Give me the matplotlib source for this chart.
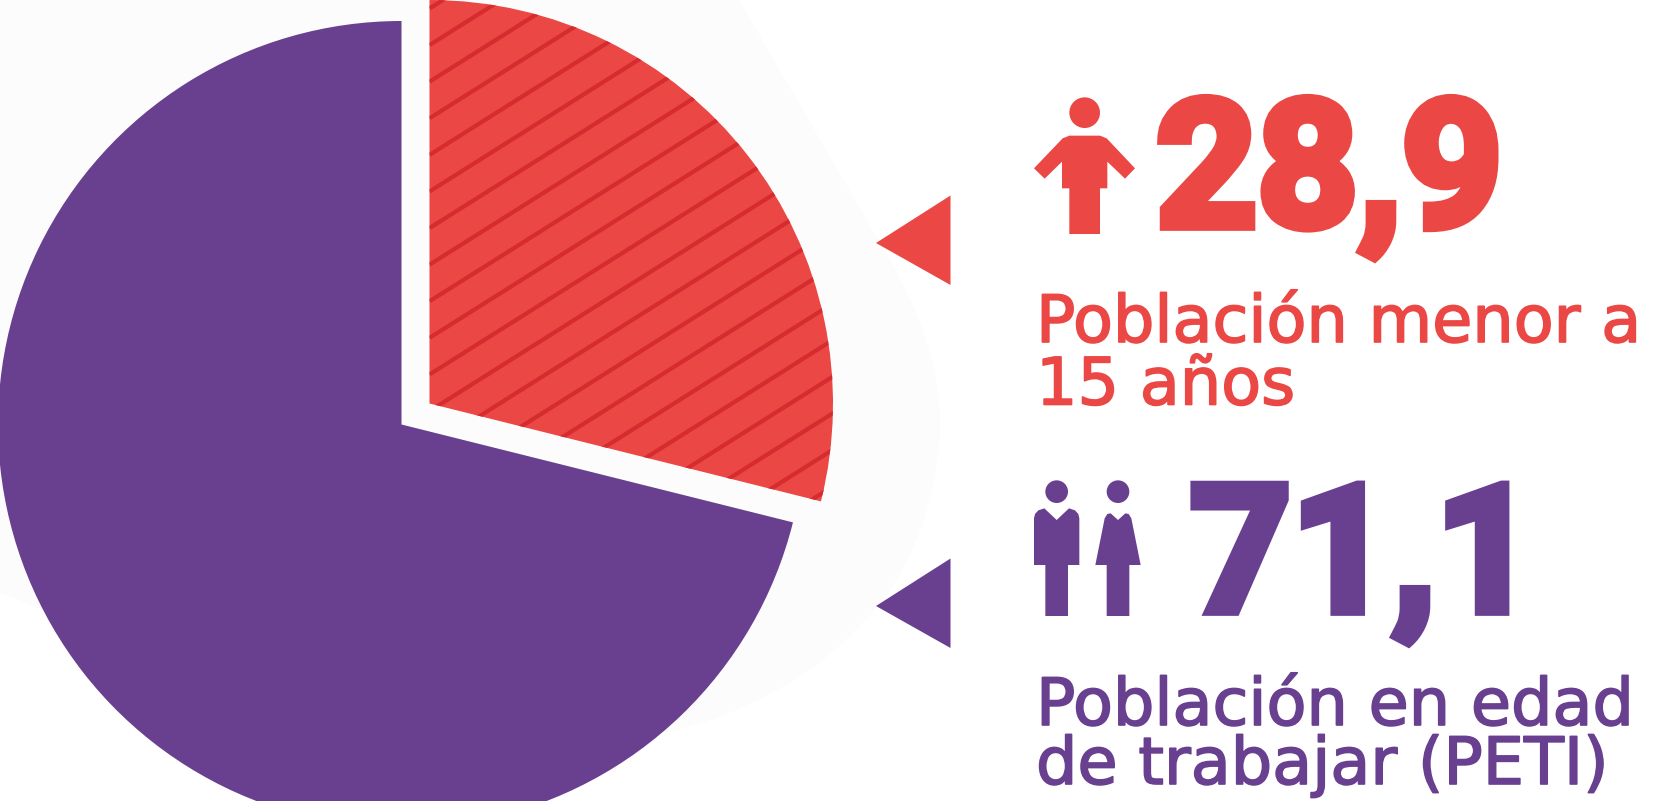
import numpy as np
import matplotlib
matplotlib.use('Agg')
import matplotlib.pyplot as plt
import matplotlib.patheffects as pe
from matplotlib.patches import Wedge, Polygon, Circle, PathPatch
from matplotlib.path import Path

# datos
categorias = ['Población menor a\n15 años', 'Población en edad\nde trabajar (PETI)']
valores = [28.9, 71.1]
etiquetas_valor = ['28,9', '71,1']

ROJO = '#EA4745'
ROJO_OSC = '#D62C2F'
MORADO = '#693F90'
FONDO = '#FCFCFC'
W, H = 1665, 801

fig = plt.figure(figsize=(W / 100, H / 100), dpi=100)
ax = fig.add_axes([0, 0, 1, 1])
ax.set_xlim(0, W)
ax.set_ylim(H, 0)  # en pixeles, y hacia abajo
ax.axis('off')

# mancha clara del fondo
fondo = Path(
    [(0, 0), (739, 0), (880, 243),
     (915, 300), (942, 365), (940, 430),
     (937, 500), (912, 565), (877, 607),
     (820, 675), (745, 715), (663, 733),
     (400, 760), (150, 650), (0, 593),
     (0, 0)],
    [Path.MOVETO, Path.LINETO, Path.LINETO,
     Path.CURVE4, Path.CURVE4, Path.CURVE4,
     Path.CURVE4, Path.CURVE4, Path.CURVE4,
     Path.CURVE4, Path.CURVE4, Path.CURVE4,
     Path.CURVE4, Path.CURVE4, Path.CURVE4,
     Path.CLOSEPOLY])
ax.add_patch(PathPatch(fondo, fc=FONDO, ec='none', zorder=1))

# pastel: empieza arriba, sentido horario (eje y invertido)
ang_rojo = valores[0] / sum(valores) * 360
rojo = Wedge((429.5, 403.5), 403.5, -90, -90 + ang_rojo, fc=ROJO, ec='none', zorder=2)
morado = Wedge((401.5, 424.5), 403.5, -90 + ang_rojo, 270, fc=MORADO, ec='none', zorder=2)
ax.add_patch(rojo)
ax.add_patch(morado)

# rayas del sector rojo
for y0 in np.arange(8.5, 900, 36.6):
    xs = np.array([429.5, 900])
    ys = y0 - 0.63 * (xs - 429.5)
    ln, = ax.plot(xs, ys, color=ROJO_OSC, lw=3.0, solid_capstyle='butt', zorder=3)
    ln.set_clip_path(rojo)

# triangulos
ax.add_patch(Polygon([(876, 243), (950.5, 195.5), (950.5, 285)], fc=ROJO, ec='none', zorder=3))
ax.add_patch(Polygon([(876, 606), (950.5, 558.5), (950.5, 648)], fc=MORADO, ec='none', zorder=3))


def icono(pts, cabeza, r, x0, y0, color):
    pts = [(x0 + a / 3, y0 + b / 3) for a, b in pts]
    ax.add_patch(Polygon(pts, fc=color, ec='none', zorder=3))
    ax.add_patch(Circle((x0 + cabeza[0] / 3, y0 + cabeza[1] / 3), r / 3, fc=color, ec='none', zorder=3))


nino = [(178, 197), (270, 197), (290, 205), (375, 295), (345, 326), (292, 275), (292, 355), (270, 355),
        (270, 492), (178, 492), (178, 355), (156, 355), (156, 275), (104, 326), (72, 295), (158, 205)]
hombre = [(72, 315), (72, 175), (75, 162), (85, 151), (103, 145), (140, 180), (177, 145), (195, 151), (205, 162),
          (208, 175), (208, 315), (174, 315), (174, 468), (106, 468), (106, 315)]
mujer = [(256, 315), (284, 175), (292, 162), (302, 160), (324, 180), (346, 160), (356, 162), (364, 175),
         (392, 315), (358, 315), (358, 468), (290, 468), (290, 315)]
icono(nino, (224, 128), 46, 1010, 70, ROJO)
icono(hombre, (140, 95), 34, 1010, 460, MORADO)
icono(mujer, (324, 95), 34, 1010, 460, MORADO)

# numeros grandes
for txt, c, x, y in zip(etiquetas_valor, [ROJO, MORADO], [1156, 1190], [226, 611]):
    t = ax.text(x, y, txt, color=c, fontsize=127, family='Roboto', weight='bold',
                ha='left', va='baseline', zorder=4)
    t.set_path_effects([pe.withStroke(linewidth=7, foreground=c, joinstyle='miter')])

# textos
renglones = categorias[0].split('\n') + categorias[1].split('\n')
colores = [ROJO, ROJO, MORADO, MORADO]
bases = [342, 404.5, 725, 784]
for s, c, b in zip(renglones, colores, bases):
    t = ax.text(1036, b, s, color=c, fontsize=47, family='DejaVu Sans',
                ha='left', va='baseline', zorder=4)
    t.set_path_effects([pe.withStroke(linewidth=1.2, foreground=c)])

fig.savefig('out.png', dpi=100, facecolor='white')
